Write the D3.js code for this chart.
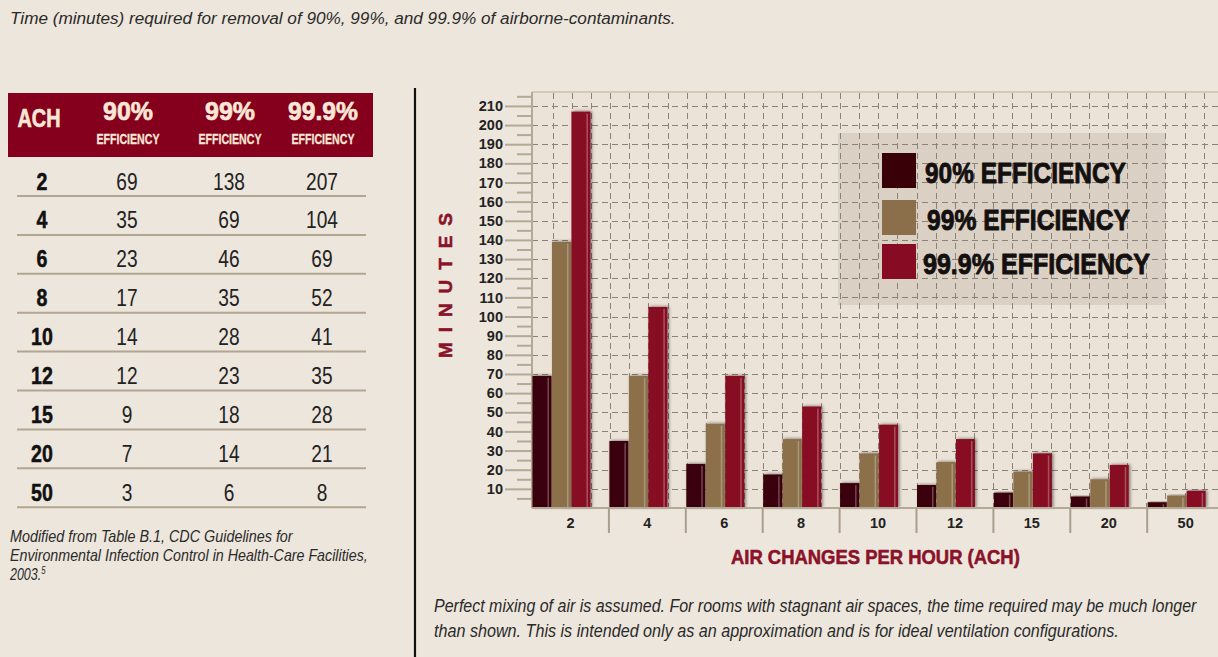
<!DOCTYPE html>
<html><head><meta charset="utf-8">
<script src="https://cdn.jsdelivr.net/npm/d3@7"></script>
<style>
html,body{margin:0;padding:0;background:#ede6dc;}
svg{display:block;}
</style></head>
<body>
<svg id="c" width="1218" height="657"></svg>
<script>
// ---- data ----
const achLabels = ["2","4","6","8","10","12","15","20","50"];
const table90  = [69,35,23,17,14,12,9,7,3];
const table99  = [138,69,46,35,28,23,18,14,6];
const table999 = [207,104,69,52,41,35,28,21,8];
// values as drawn in the bar chart
const chart90  = [69,35,23,17.5,13,12,8,6,3];
const chart99  = [139,69,44,36,28.5,24,19,15,6.5];
const chart999 = [207,105,69,53,43.5,36,28.5,22.5,9];
const seriesNames = ["90% EFFICIENCY","99% EFFICIENCY","99.9% EFFICIENCY"];
const headerTop = ["90%","99%","99.9%"];
const yTicks = d3.range(10,211,10);
const yMinor = d3.range(5,216,10);

const SANS = "'Liberation Sans',Arial,sans-serif";
const colors = ["#3a0007","#8b6f4a","#870c23"];
const RED = "#8a1229";

const svg = d3.select("#c");
svg.append("rect").attr("width",1218).attr("height",657).attr("fill","#ede6dc");

const defs = svg.append("defs");
const f = defs.append("filter").attr("id","sh").attr("x","-30%").attr("y","-10%").attr("width","160%").attr("height","120%");
f.append("feDropShadow").attr("dx",1.5).attr("dy",-0.5).attr("stdDeviation",1.6).attr("flood-color","#000").attr("flood-opacity",0.45);

// condensed text helper: horizontal squeeze via transform
function ctext(parent, o){
  const g = parent.append("g");
  const t = g.append("text").attr("x",0).attr("y",0)
    .style("font-family",SANS).style("font-size",o.size+"px")
    .style("font-weight",o.weight||"normal").style("font-style",o.italic?"italic":"normal")
    .attr("text-anchor",o.anchor||"start").attr("fill",o.fill||"#222").text(o.text);
  if (o.stroke){ t.attr("stroke",o.fill).attr("stroke-width",o.stroke).attr("stroke-linejoin","round"); }
  let sx = o.sx || 1;
  if (o.width){ sx = o.width / t.node().getComputedTextLength(); }
  g.attr("transform",`translate(${o.x},${o.y}) scale(${sx},1)`);
  return t;
}

// ---- title ----
ctext(svg,{x:10,y:24,size:16.5,italic:true,fill:"#2a2a2a",width:666,
  text:"Time (minutes) required for removal of 90%, 99%, and 99.9% of airborne-contaminants."});

// ---- table ----
const colX = [41,127,229,322];
const CREAM = "#f8e6d6";
svg.append("rect").attr("x",8).attr("y",93).attr("width",365).attr("height",64).attr("fill","#85001c");
ctext(svg,{x:colX[0]-2,y:127,size:26,weight:"bold",fill:CREAM,anchor:"middle",width:43,stroke:0.7,text:"ACH"});
headerTop.forEach((t,i)=>{
  ctext(svg,{x:colX[i+1]+1,y:120,size:25.5,weight:"bold",fill:CREAM,anchor:"middle",width:[50,50,70][i],stroke:0.7,text:t});
  ctext(svg,{x:colX[i+1]+1,y:144,size:14.5,weight:"bold",fill:CREAM,anchor:"middle",width:63,stroke:0.3,text:"EFFICIENCY"});
});
const rowH = 38.9;
achLabels.forEach((a,r)=>{
  const by = 189.5 + r*rowH;
  ctext(svg,{x:colX[0]+1,y:by,size:24.5,weight:"bold",fill:"#111",anchor:"middle",sx:0.8,stroke:0.5,text:a});
  [table90,table99,table999].forEach((arr,c)=>{
    ctext(svg,{x:colX[c+1],y:by,size:24.5,fill:"#222",anchor:"middle",sx:0.78,text:String(arr[r])});
  });
  svg.append("line").attr("x1",17).attr("x2",366).attr("y1",196+r*rowH).attr("y2",196+r*rowH)
    .attr("stroke","#b3a691").attr("stroke-width",2);
});
// footnote
ctext(svg,{x:10,y:542,size:16,italic:true,fill:"#2a2a2a",width:283,text:"Modified from Table B.1, CDC Guidelines for"});
ctext(svg,{x:10,y:561,size:16,italic:true,fill:"#2a2a2a",width:358,text:"Environmental Infection Control in Health-Care Facilities,"});
const ft = ctext(svg,{x:10,y:580,size:16,italic:true,fill:"#2a2a2a",sx:0.78,text:"2003."});
ft.append("tspan").attr("dy",-6).style("font-size","10px").text("5");

// separator
svg.append("line").attr("x1",415).attr("x2",415).attr("y1",88).attr("y2",657).attr("stroke","#111").attr("stroke-width",2.2);

// ---- chart ----
const plotL = 532, plotT = 92, plotB = 508;
const x = d3.scaleBand().domain(achLabels).range([plotL, plotL + 9*76.9]).padding(0);
const y = d3.scaleLinear().domain([0,210]).range([plotB, 105.9]);
const step = y(0)-y(10);

svg.append("rect").attr("x",plotL).attr("y",plotT).attr("width",1218-plotL).attr("height",plotB-plotT).attr("fill","#ebe2d8");
svg.append("line").attr("x1",plotL).attr("x2",1218).attr("y1",plotT).attr("y2",plotT).attr("stroke","#d3c9bc").attr("stroke-width",2);

// legend background
svg.append("rect").attr("x",838).attr("y",133).attr("width",328).attr("height",172).attr("fill","#dad0c3");

// grid
const grid = svg.append("g").attr("stroke","#8a8276").attr("stroke-width",1).attr("stroke-dasharray","6,4");
yTicks.forEach(v=>{
  grid.append("line").attr("x1",plotL).attr("x2",1218).attr("y1",Math.round(y(v))+0.5).attr("y2",Math.round(y(v))+0.5);
});
const vgx = d3.range(0,40).map(k=>plotL+20.7+k*step).filter(v=>v<1218);
vgx.forEach(v=>{
  grid.append("line").attr("x1",Math.round(v)+0.5).attr("x2",Math.round(v)+0.5).attr("y1",plotT+1).attr("y2",plotB);
});

// y axis
const yAx = svg.append("g").attr("transform",`translate(${plotL},0)`)
  .call(d3.axisLeft(y).tickValues(yTicks).tickSize(27).tickPadding(2));
yAx.select(".domain").remove();
yAx.selectAll(".tick line").attr("stroke","#b5a895").attr("stroke-width",2);
yAx.selectAll(".tick text").style("font-family",SANS).style("font-weight","bold").style("font-size","14.5px").attr("fill","#222");
const yMin = svg.append("g").attr("transform",`translate(${plotL},0)`)
  .call(d3.axisLeft(y).tickValues(yMinor).tickSize(15).tickFormat(""));
yMin.select(".domain").remove();
yMin.selectAll(".tick line").attr("stroke","#b5a895").attr("stroke-width",2);
svg.append("line").attr("x1",plotL).attr("x2",plotL).attr("y1",plotT).attr("y2",plotB).attr("stroke","#b5a895").attr("stroke-width",2);

// bars
const series = [chart90,chart99,chart999];
const bw = x.bandwidth()*0.76/3;
series.forEach((arr,s)=>{
  const g = svg.append("g");
  const d0 = achLabels.map((a,i)=>({a,v:arr[i]}));
  g.selectAll("rect.bar").data(d0).join("rect")
    .attr("class","bar").attr("x",d=>x(d.a)+s*bw+0.5).attr("y",d=>y(d.v)).attr("width",bw-0.5)
    .attr("height",d=>y(0)-y(d.v)).attr("fill",colors[s]).attr("filter","url(#sh)");
  g.selectAll("rect.hl").data(d0).join("rect")
    .attr("class","hl").attr("x",d=>x(d.a)+(s+1)*bw-4).attr("y",d=>y(d.v)+2).attr("width",1.5)
    .attr("height",d=>Math.max(0,y(0)-y(d.v)-3)).attr("fill","#fff").attr("opacity",0.28);
});

// x axis
svg.append("line").attr("x1",plotL).attr("x2",1218).attr("y1",plotB).attr("y2",plotB).attr("stroke","#b5a895").attr("stroke-width",2);
const xAx = svg.append("g").attr("transform",`translate(0,${plotB})`)
  .call(d3.axisBottom(x).tickSize(0).tickPadding(10));
xAx.select(".domain").remove();
xAx.selectAll(".tick text").style("font-family",SANS).style("font-weight","bold").style("font-size","14.5px").attr("fill","#222");
achLabels.slice(1).forEach(a=>{
  svg.append("line").attr("x1",x(a)).attr("x2",x(a)).attr("y1",plotB).attr("y2",533).attr("stroke","#aa9e8d").attr("stroke-width",2);
});

// axis titles
ctext(svg,{x:731,y:564,size:21,weight:"bold",fill:RED,width:289,stroke:0.6,text:"AIR CHANGES PER HOUR (ACH)"});
svg.append("text").attr("transform","translate(452,358) rotate(-90)").style("font-family",SANS).style("font-weight","bold")
  .style("font-size","19px").attr("fill",RED).attr("stroke",RED).attr("stroke-width",0.5)
  .attr("textLength",145).attr("lengthAdjust","spacing").text("MINUTES");

// legend
const lg = [{y:153,tl:201,tx:925},{y:200,tl:203,tx:927},{y:244,tl:227,tx:923}];
lg.forEach((l,i)=>{
  svg.append("rect").attr("x",882).attr("y",l.y).attr("width",34).attr("height",35).attr("fill",colors[i]);
  ctext(svg,{x:l.tx,y:l.y+30,size:29.5,weight:"bold",fill:"#141010",width:l.tl,stroke:0.9,text:seriesNames[i]});
});

// bottom note
ctext(svg,{x:434,y:612,size:18,italic:true,fill:"#2a2a2a",width:763,
  text:"Perfect mixing of air is assumed. For rooms with stagnant air spaces, the time required may be much longer"});
ctext(svg,{x:434,y:637,size:18,italic:true,fill:"#2a2a2a",width:685,
  text:"than shown. This is intended only as an approximation and is for ideal ventilation configurations."});
</script>
</body></html>
